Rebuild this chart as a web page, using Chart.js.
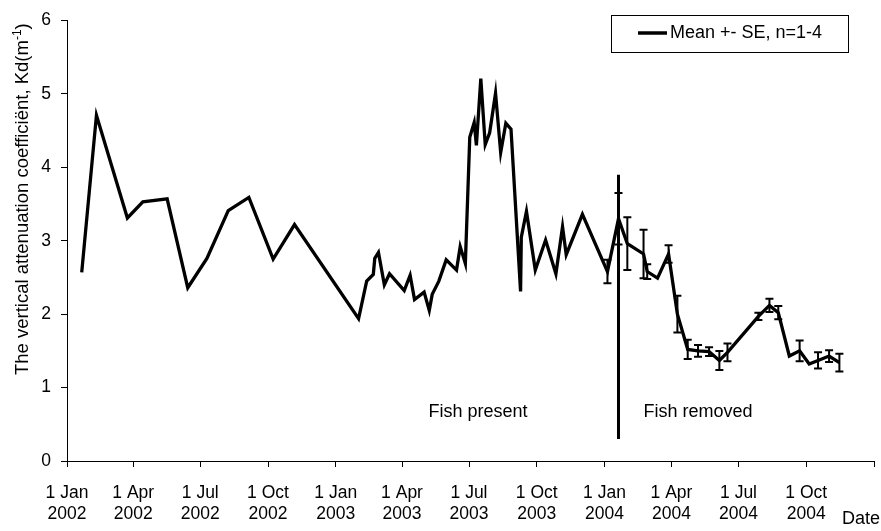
<!DOCTYPE html>
<html>
<head>
<meta charset="utf-8">
<script src="https://cdn.jsdelivr.net/npm/chart.js@4.4.1/dist/chart.umd.min.js"></script>
<style>
  html, body { margin: 0; padding: 0; background: #fff; }
  canvas { display: block; }
</style>
</head>
<body>
<canvas id="kd" width="881" height="531"></canvas>
<script>
// Sampling dates and the vertical attenuation coefficient Kd (m-1)
const sampleDates = [
  '2002-01-21', '2002-02-10', '2002-03-24', '2002-04-14', '2002-05-17', '2002-06-14',
  '2002-07-10', '2002-08-08', '2002-09-05', '2002-10-08', '2002-11-06',
  '2003-02-01', '2003-02-12', '2003-02-21', '2003-02-23', '2003-02-28', '2003-03-08',
  '2003-03-15', '2003-04-04', '2003-04-12', '2003-04-18', '2003-05-01', '2003-05-08',
  '2003-05-12', '2003-05-21', '2003-05-31', '2003-06-14', '2003-06-19', '2003-06-26',
  '2003-07-02', '2003-07-08', '2003-07-11', '2003-07-17', '2003-07-23', '2003-07-29',
  '2003-08-06', '2003-08-13', '2003-08-20', '2003-08-27', '2003-09-09', '2003-09-10',
  '2003-09-17', '2003-09-29', '2003-10-13', '2003-10-27', '2003-11-05', '2003-11-10',
  '2003-12-02',
  '2004-01-05', '2004-01-20', '2004-02-01', '2004-02-23', '2004-02-28', '2004-03-13',
  '2004-03-28', '2004-04-09', '2004-04-23', '2004-05-07', '2004-05-22', '2004-06-05',
  '2004-06-16', '2004-07-28', '2004-08-12', '2004-08-24', '2004-09-08', '2004-09-22',
  '2004-10-05', '2004-10-17', '2004-11-01', '2004-11-15'
];

const kdMean = [
  2.57, 4.71, 3.31, 3.53, 3.57, 2.36,
  2.76, 3.41, 3.59, 2.75, 3.22,
  1.94, 2.45, 2.54, 2.76, 2.84, 2.40,
  2.55, 2.32, 2.53, 2.20, 2.30, 2.05,
  2.27, 2.45, 2.74, 2.60, 2.92, 2.69,
  4.41, 4.61, 4.30, 5.21, 4.31, 4.47,
  5.01, 4.20, 4.60, 4.52, 2.31, 3.05,
  3.40, 2.60, 3.01, 2.55, 3.19, 2.81,
  3.36,
  2.58, 3.30, 2.96, 2.82, 2.58, 2.49,
  2.82, 2.00, 1.52, 1.50, 1.49, 1.37,
  1.48, 1.97, 2.12, 2.02, 1.43, 1.50,
  1.32, 1.37, 1.43, 1.34
];

// Standard error of the mean (null where only one sample was taken)
const kdSE = [
  null, null, null, null, null, null,
  null, null, null, null, null,
  null, null, null, null, null, null,
  null, null, null, null, null, null,
  null, null, null, null, null, null,
  null, null, null, null, null, null,
  null, null, null, null, null, null,
  null, null, null, null, null, null,
  null,
  0.16, 0.35, 0.36, 0.33, 0.10, null,
  0.12, 0.25, 0.13, 0.08, 0.06, 0.13,
  0.12, 0.05, 0.09, 0.09, null, 0.14,
  null, 0.11, 0.08, 0.12
];

const axisTickDates = [
  '2002-01-01', '2002-04-01', '2002-07-01', '2002-10-01',
  '2003-01-01', '2003-04-01', '2003-07-01', '2003-10-01',
  '2004-01-01', '2004-04-01', '2004-07-01', '2004-10-01', '2005-01-01'
];
const axisTickLabels = [
  ['1 Jan', '2002'], ['1 Apr', '2002'], ['1 Jul', '2002'], ['1 Oct', '2002'],
  ['1 Jan', '2003'], ['1 Apr', '2003'], ['1 Jul', '2003'], ['1 Oct', '2003'],
  ['1 Jan', '2004'], ['1 Apr', '2004'], ['1 Jul', '2004'], ['1 Oct', '2004'], ''
];

const removalDate = '2004-01-20';
const removalSpan = [0.3, 3.9];
const seriesLabel = 'Mean +- SE, n=1-4';
const periodLabels = ['Fish present', 'Fish removed'];
const yTitleMain = 'The vertical attenuation coefficiënt, Kd(m';
const yTitleSup = '-1';
const xTitle = 'Date';

const FONT = "'Liberation Sans', Arial, Helvetica, sans-serif";
const ORIGIN = Date.UTC(2002, 0, 1);
function dayOf(s) {
  const [yy, mm, dd] = s.split('-').map(Number);
  return (Date.UTC(yy, mm - 1, dd) - ORIGIN) / 86400000;
}
const tickDays = axisTickDates.map(dayOf);

Chart.defaults.font.family = FONT;
Chart.defaults.font.size = 17;
Chart.defaults.color = '#000';

// Error bars, drawn through the chart's own scales
const errorBars = {
  id: 'errorBars',
  afterDatasetsDraw(chart) {
    const { ctx, scales: { x, y } } = chart;
    ctx.save();
    ctx.strokeStyle = '#000';
    ctx.lineWidth = 2;
    kdSE.forEach((se, i) => {
      if (se == null) return;
      const px = x.getPixelForValue(dayOf(sampleDates[i]));
      const top = y.getPixelForValue(kdMean[i] + se);
      const bot = y.getPixelForValue(kdMean[i] - se);
      ctx.beginPath();
      ctx.moveTo(px, top); ctx.lineTo(px, bot);
      ctx.moveTo(px - 4, top); ctx.lineTo(px + 4, top);
      ctx.moveTo(px - 4, bot); ctx.lineTo(px + 4, bot);
      ctx.stroke();
    });
    ctx.restore();
  }
};

// Axis titles, period labels and the boxed legend
const decorations = {
  id: 'decorations',
  afterDraw(chart) {
    const { ctx, scales: { x } } = chart;
    ctx.save();
    ctx.fillStyle = '#000';

    // rotated y-axis title with superscript
    ctx.save();
    ctx.translate(28, 375);
    ctx.rotate(-Math.PI / 2);
    ctx.textAlign = 'left';
    ctx.textBaseline = 'alphabetic';
    ctx.font = '18.5px ' + FONT;
    ctx.fillText(yTitleMain, 0, 0);
    let w = ctx.measureText(yTitleMain).width;
    ctx.font = '12px ' + FONT;
    ctx.fillText(yTitleSup, w, -7);
    w += ctx.measureText(yTitleSup).width;
    ctx.font = '18.5px ' + FONT;
    ctx.fillText(')', w, 0);
    ctx.restore();

    ctx.font = '18px ' + FONT;

    // x-axis title
    ctx.textAlign = 'left';
    ctx.textBaseline = 'alphabetic';
    ctx.fillText(xTitle, 842, 524);

    // period labels on either side of the removal line
    const lineX = x.getPixelForValue(dayOf(removalDate));
    ctx.textBaseline = 'middle';
    ctx.textAlign = 'right';
    ctx.fillText(periodLabels[0], lineX - 91, 412);
    ctx.textAlign = 'left';
    ctx.fillText(periodLabels[1], lineX + 25, 412);

    // legend box
    ctx.strokeStyle = '#000';
    ctx.lineWidth = 1;
    ctx.strokeRect(611.5, 15.5, 237, 37);
    ctx.lineWidth = 3.5;
    ctx.beginPath();
    ctx.moveTo(638, 33);
    ctx.lineTo(667, 33);
    ctx.stroke();
    ctx.textAlign = 'left';
    ctx.textBaseline = 'middle';
    ctx.fillText(chart.data.datasets[0].label, 670, 33);
    ctx.restore();
  }
};

const removal = dayOf(removalDate);

new Chart(document.getElementById('kd'), {
  type: 'line',
  data: {
    datasets: [
      {
        label: seriesLabel,
        data: sampleDates.map((d, i) => ({ x: dayOf(d), y: kdMean[i] })),
        borderColor: '#000',
        borderWidth: 3.3,
        pointRadius: 0,
        tension: 0,
        fill: false
      },
      {
        label: 'removal',
        data: removalSpan.map(v => ({ x: removal, y: v })),
        borderColor: '#000',
        borderWidth: 3,
        pointRadius: 0,
        fill: false
      }
    ]
  },
  options: {
    responsive: false,
    animation: false,
    devicePixelRatio: 1,
    layout: { padding: { top: 14, right: 7, left: 0, bottom: 0 } },
    plugins: {
      legend: { display: false },
      tooltip: { enabled: false }
    },
    scales: {
      x: {
        type: 'linear',
        min: 0,
        max: tickDays[tickDays.length - 1],
        afterFit(scale) {
          scale.height = 70;
          scale.paddingLeft = 0;
          scale.paddingRight = 0;
        },
        afterBuildTicks(scale) { scale.ticks = tickDays.map(v => ({ value: v })); },
        grid: { drawOnChartArea: false, drawTicks: true, tickLength: 6, color: '#000' },
        border: { display: true, color: '#000', width: 1 },
        ticks: {
          autoSkip: false,
          maxRotation: 0,
          padding: 15,
          font: { size: 17.5, lineHeight: 1.22 },
          callback(value) {
            const i = tickDays.indexOf(value);
            return i >= 0 ? axisTickLabels[i] : '';
          }
        }
      },
      y: {
        min: 0,
        max: 6,
        afterFit(scale) { scale.width = 67; },
        grid: { drawOnChartArea: false, drawTicks: true, tickLength: 6, color: '#000' },
        border: { display: true, color: '#000', width: 1 },
        ticks: { stepSize: 1, padding: 10, font: { size: 17.5 } }
      }
    }
  },
  plugins: [errorBars, decorations]
});
</script>
</body>
</html>
